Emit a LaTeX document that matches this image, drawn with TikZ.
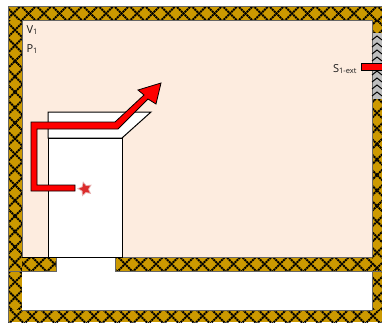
\documentclass[tikz,border=0pt]{standalone}
\usepackage{fontspec}
\setmainfont{Open Sans}
\usetikzlibrary{shapes.geometric}
\definecolor{wallGold}{RGB}{204,153,0}
\definecolor{roomTint}{RGB}{253,236,223}
\definecolor{ventGrey}{RGB}{190,190,190}
\newcommand{\subtxt}[1]{\raisebox{-1.6pt}{\fontsize{7.5}{8}\selectfont #1}}
% one wall: corners, then the centre of one cross of the lattice
\newcommand{\wallrun}[6]{
  \begin{scope}
    \clip (#1,#2) rectangle (#3,#4);
    \fill[wallGold] (#1,#2) rectangle (#3,#4);
    \foreach \k in {-30,...,30} {
      \draw[black, line width=1.9, dash pattern=on 2 off 0.7] (#5+15.5*\k-350,#6-350) -- ++(700,700);
      \draw[black, line width=1.9, dash pattern=on 2 off 0.7] (#5+15.5*\k-350,#6+350) -- ++(700,-700);
    }
  \end{scope}
}
\tikzset{
  wallEdge/.style={draw=black!60, line width=1},
  fumePath/.style={fill=red, draw=black, line width=0.8, line join=miter},
  roomLabel/.style={inner sep=0pt, anchor=base west, font=\fontsize{11}{12}\selectfont, text=black!90},
}
\begin{document}
\begin{tikzpicture}[x=1pt, y=-1pt, line width=1pt]
\useasboundingbox (0,0) rectangle (382,322);
% Walls
\wallrun{8}{6}{382}{20}{13}{13.5}
\wallrun{8}{20}{22}{271}{15}{30}
\wallrun{22}{257}{56}{271}{39}{264}
\wallrun{115}{257}{372}{271}{125}{264}
\wallrun{372}{20}{382}{271}{377}{113}
\wallrun{8}{271}{22}{310}{15}{282}
\wallrun{372}{271}{382}{310}{377}{282}
\wallrun{8}{310}{382}{322}{32}{316}
% Rooms
\fill[roomTint] (22,20) rectangle (372,257);
\fill[white] (22,271) rectangle (372,310);
\fill[white] (56,257) rectangle (115,271);
\draw[wallEdge] (22,257) -- (22,20) -- (372,20) -- (372,257);
\draw[wallEdge] (372,271) -- (372,310) -- (22,310);
\draw[wallEdge] (8,271) -- (56,271) -- (56,258);
\draw[wallEdge] (115,258) -- (115,271) -- (382,271);
\draw[wallEdge] (123,257) -- (372,257);
\draw[wallEdge] (8,322) -- (8,6) -- (382,6);
\draw[black, line width=1] (22,257) -- (123,257);
% Vent
\fill[ventGrey] (372,33) rectangle (382,99);
\draw[wallEdge] (372,33) -- (372,99);
\foreach \y in {36,43,...,92} {
  \draw[black, line width=1] (372,\y+4) -- (377,\y) -- (382,\y+4);
}
% Hood and column
\draw[fill=white, line width=1] (48,112) -- (151,112) -- (122,138) -- (48,138) -- cycle;
\draw[fill=white, line width=1] (48,138) rectangle (122,257);
% Fume path
\path[fumePath] (75,185) -- (37,185) -- (37,129) -- (118,129) -- (148,99) -- (156,104) -- (161,83) -- (138,90) -- (144,95) -- (115,122) -- (31,122) -- (31,191) -- (75,191) -- cycle;
\draw[fumePath] (361,63) rectangle (382,70);
% Fire
\node[star, star points=5, star point ratio=2, fill=red!70!black, opacity=0.3, inner sep=0pt, minimum size=16, rotate=15] (fireglow) at (85,189) {};
\node[star, star points=5, star point ratio=2, fill=red!85!black, opacity=0.75, inner sep=0pt, minimum size=12, rotate=15] (fire) at (85,189) {};
% Labels
\node[roomLabel] (volume) at (26,33) {V\subtxt{1}};
\node[roomLabel] (power) at (26,52) {P\subtxt{1}};
\node[roomLabel, anchor=base east] (sensor) at (357,72) {S\subtxt{1-ext}};
\end{tikzpicture}
\end{document}
